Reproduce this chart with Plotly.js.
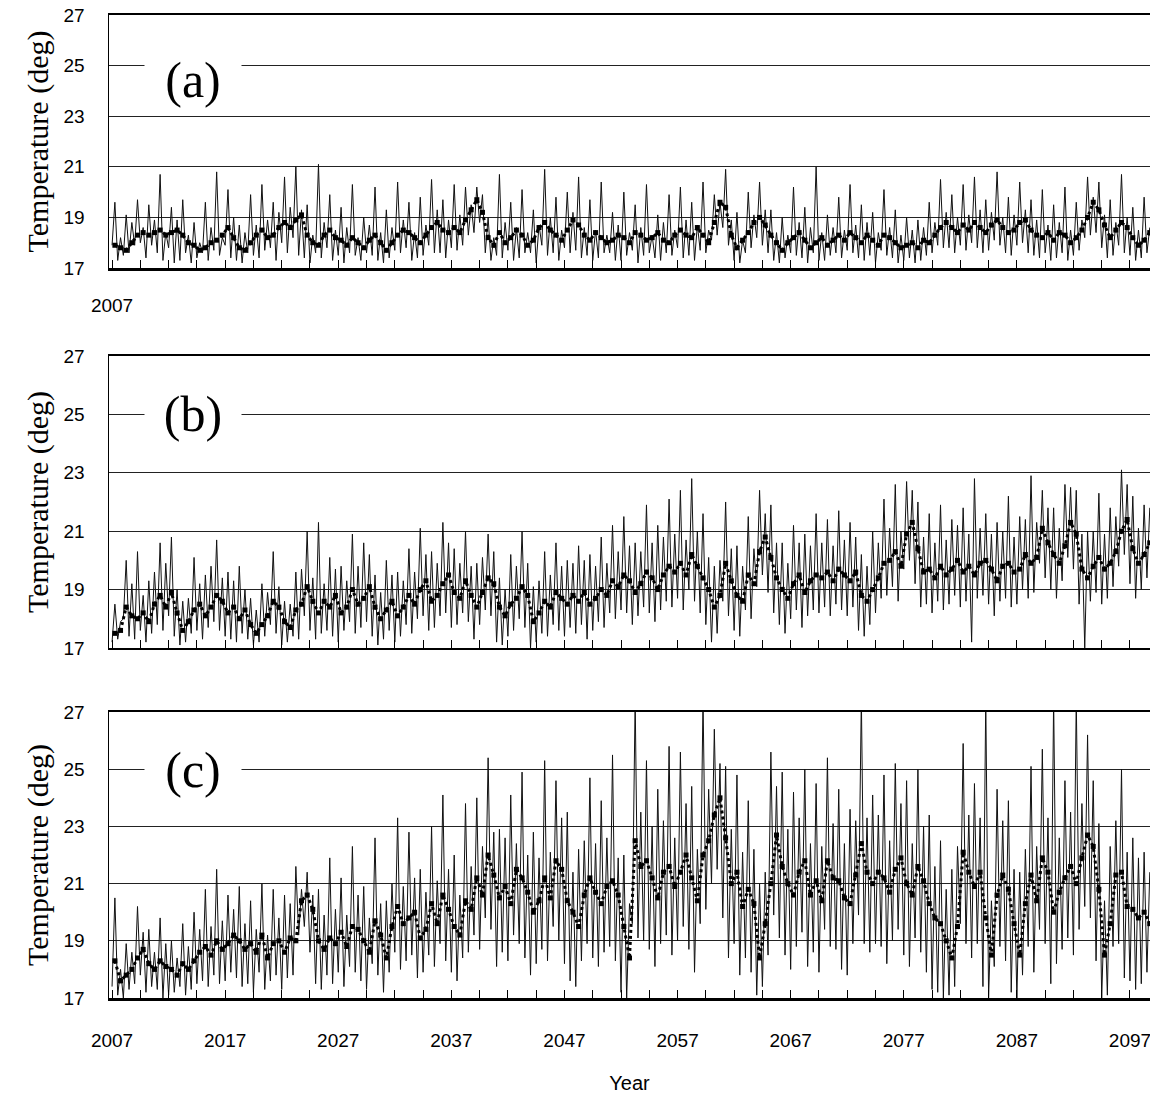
<!DOCTYPE html>
<html>
<head>
<meta charset="utf-8">
<script src="https://cdn.plot.ly/plotly-3.0.1.min.js"></script>
<style>html,body{margin:0;padding:0;background:#fff;}#chart{width:1150px;height:1094px;}</style>
</head>
<body>
<div id="chart"></div>
<script>
const START_YEAR = 2007;
const THIN_PER_YEAR = 4;
const SMOOTH_PER_YEAR = 2;
const yearTicks = [2007, 2017, 2027, 2037, 2047, 2057, 2067, 2077, 2087, 2097];
const tempTicks = [17, 19, 21, 23, 25, 27];
const panelLabels = ['(a)', '(b)', '(c)'];

// Panel (a): thin line, 4 values per year, 2007-2098
const thinA = [
17.9,19.6,17.3,18.2, 17.5,19.1,17.6,18.8, 17.9,19.7,18.0,18.6, 17.4,19.5,17.9,18.9, 17.6,20.7,17.3,18.4,
17.8,19.4,17.2,18.9, 17.3,19.7,17.6,18.3, 17.2,18.8,17.4,18.0, 17.6,19.6,17.3,18.6, 17.7,20.8,17.5,18.2,
17.9,20.1,17.4,19.0, 17.3,18.7,17.2,18.4, 17.6,19.9,17.5,18.7, 17.4,20.3,17.7,18.9, 17.8,19.6,17.3,19.2,
18.0,20.6,17.6,19.4, 18.2,21.0,17.5,19.3, 17.4,19.5,17.2,18.3, 17.6,21.1,17.4,18.8, 17.8,19.9,17.3,18.5,
17.5,19.4,17.2,18.6, 17.6,20.3,17.5,18.2, 17.3,19.0,17.6,18.7, 17.5,20.2,17.3,18.4, 17.2,19.3,17.4,18.6,
17.7,20.4,17.6,18.9, 17.8,19.6,17.3,18.4, 17.4,19.8,17.5,18.7, 17.9,20.5,17.6,19.3, 17.6,19.7,17.4,18.9,
17.8,20.3,17.7,19.1, 17.9,20.2,18.3,19.5, 18.4,20.2,18.8,19.9, 17.6,19.0,17.3,18.2, 17.5,20.7,17.4,18.8,
17.7,19.6,17.3,18.6, 17.4,20.1,17.6,18.4, 17.6,19.3,17.2,18.7, 17.9,20.9,17.5,19.0, 17.6,19.8,17.3,18.5,
17.8,20.0,17.6,19.2, 17.7,20.6,17.4,18.6, 17.5,19.7,17.3,18.5, 17.4,20.4,17.6,18.3, 17.6,19.2,17.3,18.7,
17.3,20.0,17.5,18.4, 17.7,19.5,17.2,18.6, 17.5,20.3,17.6,18.3, 17.4,19.1,17.3,18.8, 17.6,19.9,17.5,18.5,
17.8,20.2,17.4,18.9, 17.5,19.6,17.3,18.7, 17.7,20.4,17.6,18.5, 18.1,19.9,18.3,19.6, 18.6,20.9,17.9,18.9,
17.3,19.2,17.2,18.1, 17.6,20.0,17.8,19.1, 18.2,20.4,17.9,19.3, 17.6,19.3,17.3,18.4, 17.2,19.0,17.4,18.3,
17.6,20.2,17.5,18.8, 17.4,19.4,17.2,18.6, 17.6,21.0,17.3,18.4, 17.3,19.1,17.5,18.6, 17.6,19.8,17.4,18.5,
17.7,20.3,17.6,18.7, 17.4,19.5,17.3,18.8, 17.5,19.2,17.2,18.4, 17.7,20.1,17.5,18.6, 17.4,19.3,17.2,18.3,
17.3,19.0,17.4,18.5, 17.2,18.9,17.3,18.6, 17.5,19.6,17.6,18.8, 17.9,20.5,17.8,19.2, 17.8,19.9,17.6,19.0,
17.9,20.3,17.7,19.1, 18.0,20.6,17.8,19.3, 17.6,19.7,17.7,19.2, 18.1,20.8,17.9,19.0, 17.6,19.8,17.5,19.1,
17.9,20.4,18.0,19.3, 17.6,19.7,17.5,18.9, 17.4,20.1,17.6,18.7, 17.3,19.5,17.4,18.8, 17.6,20.2,17.3,18.5,
17.5,19.6,17.7,18.9, 18.2,20.6,18.3,19.8, 18.4,20.4,17.8,19.1, 17.4,19.7,17.5,18.8, 17.9,20.7,17.6,19.0,
17.5,19.4,17.3,18.5, 17.4,19.8,17.6,18.6
];
// Panel (a): dotted running mean, 2 values per year
const smoothA = [
17.9,17.8, 17.7,18.0, 18.3,18.4, 18.3,18.4, 18.5,18.3, 18.4,18.5, 18.3,18.0, 17.9,17.7, 17.8,18.0, 18.1,18.3,
18.6,18.2, 17.8,17.7, 18.0,18.3, 18.5,18.2, 18.3,18.6, 18.8,18.6, 18.9,19.1, 18.3,18.0, 17.9,18.3, 18.5,18.2,
18.1,17.9, 18.2,18.0, 17.8,18.1, 18.3,18.0, 17.7,18.0, 18.3,18.5, 18.4,18.2, 18.0,18.3, 18.6,18.8, 18.5,18.4,
18.6,18.4, 18.9,19.3, 19.7,19.2, 18.2,17.9, 18.4,18.0, 18.2,18.5, 18.3,17.9, 18.1,18.6, 18.8,18.5, 18.3,18.1,
18.5,18.9, 18.7,18.3, 18.1,18.4, 18.2,18.0, 18.1,18.3, 18.2,18.0, 18.4,18.3, 18.1,18.2, 18.4,18.1, 18.0,18.3,
18.5,18.3, 18.2,18.6, 18.3,18.0, 18.8,19.6, 19.4,18.3, 17.8,18.1, 18.4,18.8, 19.0,18.7, 18.3,18.0, 17.7,18.0,
18.2,18.4, 18.1,17.8, 18.0,18.2, 17.9,18.1, 18.3,18.1, 18.4,18.2, 18.0,18.3, 18.1,17.9, 18.3,18.2, 18.0,17.8,
17.9,18.0, 17.8,18.1, 18.0,18.3, 18.6,18.8, 18.6,18.4, 18.7,18.5, 18.8,18.6, 18.4,18.7, 18.9,18.6, 18.4,18.5,
18.8,18.9, 18.5,18.3, 18.2,18.4, 18.1,18.4, 18.3,18.0, 18.2,18.5, 19.0,19.6, 19.3,18.7, 18.2,18.5, 18.8,18.6,
18.2,17.9, 18.1,18.4
];

// Panel (b)
const thinB = [
17.2,18.5,17.3,17.9, 18.0,20.0,17.4,19.2, 17.3,20.3,17.6,18.8, 17.2,19.3,17.5,19.6, 17.8,20.6,17.6,19.9,
18.1,20.8,17.4,19.0, 17.1,18.6,17.2,18.7, 17.5,20.1,17.6,19.2, 17.3,19.5,17.7,19.8, 17.9,20.7,17.6,19.4,
17.4,19.6,17.3,19.3, 17.2,19.8,17.5,19.0, 17.3,18.7,17.1,18.3, 17.2,19.2,17.4,18.9, 17.8,20.3,17.5,19.1,
17.1,18.6,17.2,18.5, 17.4,19.6,17.3,19.7, 18.1,21.0,17.6,19.4, 17.3,21.3,17.5,19.2, 17.6,20.1,17.4,19.7,
17.2,19.8,17.6,19.3, 17.9,20.9,17.5,19.8, 17.7,20.6,17.9,20.2, 17.4,19.5,17.1,18.9, 17.3,20.0,17.6,19.5,
17.2,19.6,17.4,19.3, 17.8,20.4,17.5,19.6, 18.0,21.1,18.1,20.2, 17.6,20.3,17.7,19.9, 18.1,21.3,18.2,20.6,
17.7,20.4,17.8,19.9, 18.2,21.0,17.9,19.8, 17.3,19.9,17.8,20.1, 18.3,20.9,18.1,20.3, 17.2,19.4,17.1,19.0,
17.4,20.2,17.6,19.8, 18.0,21.0,17.7,19.9, 17.0,19.1,17.2,19.3, 17.5,20.3,17.4,19.5, 17.8,20.6,17.6,19.8,
17.4,20.0,17.7,19.9, 17.5,20.5,17.8,20.0, 17.3,20.2,17.6,19.8, 17.9,20.8,17.7,19.9, 18.2,21.2,18.0,20.3,
18.3,21.5,18.2,20.5, 17.8,20.6,18.1,20.3, 18.4,21.9,18.2,20.6, 17.9,21.2,18.3,20.8, 18.6,22.1,18.4,20.9,
18.7,22.4,18.3,20.7, 19.0,22.8,18.6,21.0, 18.2,21.6,17.8,20.1, 17.2,19.8,17.5,20.0, 18.6,22.0,18.1,20.4,
17.6,20.5,17.4,19.8, 18.3,21.5,18.0,20.4, 19.1,22.4,19.5,21.6, 18.9,21.9,18.2,20.6, 17.8,20.6,17.5,19.9,
18.0,21.2,18.3,20.6, 17.7,20.9,18.1,20.5, 18.3,21.6,18.2,20.6, 18.4,21.4,18.1,20.5, 18.5,21.7,18.3,20.7,
18.1,21.3,18.4,20.8, 17.6,20.2,17.4,19.8, 17.8,21.0,18.2,20.6, 18.7,22.1,18.8,21.1, 19.1,22.6,18.6,21.0,
19.7,22.7,20.0,22.4, 19.2,22.0,18.4,20.8, 18.5,21.6,18.2,20.6, 18.6,21.9,18.3,20.7, 18.5,21.4,18.8,21.2,
18.4,21.8,18.6,20.9, 17.2,22.8,18.7,21.1, 18.8,21.6,18.5,20.9, 18.1,21.3,18.6,21.0, 18.7,22.2,18.4,20.8,
18.5,21.5,19.0,21.4, 18.7,22.9,18.9,21.3, 19.9,22.4,19.4,21.8, 19.0,21.8,18.7,21.1, 19.3,22.6,20.1,22.5,
19.7,22.4,18.5,20.9, 17.0,21.0,18.6,21.0, 18.9,22.3,18.5,20.9, 18.7,21.8,19.1,21.5, 19.8,23.1,20.2,22.6,
19.2,22.2,18.7,21.1, 19.0,21.9,19.4,21.8
];
const smoothB = [
17.5,17.6, 18.4,18.1, 18.0,18.2, 17.9,18.5, 18.8,18.4, 18.9,18.2, 17.6,17.9, 18.3,18.5, 18.1,18.4, 18.8,18.6,
18.2,18.4, 18.0,18.3, 17.8,17.5, 17.8,18.1, 18.6,18.4, 17.9,17.7, 18.3,18.5, 19.1,18.6, 18.2,18.6, 18.4,18.8,
18.2,18.4, 19.0,18.5, 18.7,19.1, 18.4,18.0, 18.3,18.6, 18.1,18.4, 18.8,18.5, 19.0,19.3, 18.6,18.8, 19.2,19.5,
18.9,18.7, 19.3,18.8, 18.4,18.9, 19.4,19.2, 18.4,18.1, 18.5,18.7, 19.1,18.8, 17.9,18.2, 18.6,18.4, 18.9,18.7,
18.5,18.8, 18.6,18.9, 18.5,18.7, 19.0,18.8, 19.3,19.1, 19.5,19.3, 18.9,19.2, 19.6,19.4, 19.0,19.5, 19.8,19.6,
19.9,19.5, 20.2,19.8, 19.4,19.0, 18.4,18.8, 19.9,19.3, 18.8,18.6, 19.5,19.2, 20.3,20.8, 20.1,19.4, 19.0,18.7,
19.2,19.5, 18.9,19.3, 19.5,19.4, 19.6,19.3, 19.7,19.5, 19.3,19.6, 18.8,18.6, 19.0,19.4, 19.9,20.0, 20.3,19.8,
20.9,21.3, 20.4,19.6, 19.7,19.4, 19.8,19.5, 19.7,20.0, 19.6,19.8, 19.5,19.9, 20.0,19.7, 19.3,19.8, 19.9,19.6,
19.7,20.2, 19.9,20.1, 21.1,20.6, 20.2,19.9, 20.5,21.3, 20.9,19.7, 19.4,19.8, 20.1,19.7, 19.9,20.3, 21.0,21.4,
20.4,19.9, 20.2,20.6
];

// Panel (c)
const thinC = [
17.4,20.5,17.1,18.0, 17.0,18.9,17.3,18.6, 17.5,20.2,17.8,19.3, 17.2,19.4,17.4,18.6, 17.3,19.8,17.0,18.9,
17.1,19.0,17.2,18.4, 17.4,19.6,17.1,18.8, 17.3,20.0,17.5,19.4, 17.6,20.8,17.4,19.5, 17.8,21.5,17.5,19.7,
17.6,20.6,17.9,20.1, 17.7,20.9,17.4,19.6, 17.5,20.4,17.2,19.4, 17.9,21.0,17.3,19.2, 17.6,20.8,17.8,19.8,
17.3,20.6,17.7,20.3, 17.8,21.6,19.2,20.8, 19.5,21.4,18.6,20.6, 17.5,20.8,17.3,19.9, 17.8,21.9,17.5,20.1,
17.9,21.2,17.4,19.9, 18.1,22.3,17.9,20.6, 17.6,20.9,17.3,19.8, 18.2,22.6,17.8,20.3, 17.2,20.4,17.9,21.0,
18.6,23.3,18.0,20.9, 18.3,22.8,18.5,21.2, 17.7,21.5,17.9,20.7, 18.5,23.0,18.1,21.1, 18.9,24.1,18.3,21.5,
17.9,22.0,17.6,20.6, 18.4,23.8,18.6,21.6, 19.2,24.0,18.7,22.3, 19.8,25.4,19.4,22.8, 18.1,22.9,18.6,22.6,
18.3,24.1,19.2,22.4, 18.9,24.9,18.4,22.0, 17.8,22.8,18.2,21.9, 18.7,25.3,18.3,22.1, 19.5,24.6,19.0,23.3,
18.2,23.5,17.6,21.4, 17.4,22.2,18.3,22.5, 18.9,24.7,18.4,22.4, 18.1,23.9,18.6,22.6, 18.8,25.5,18.3,21.9,
17.2,22.0,17.0,20.3, 19.6,27.5,19.1,23.5, 19.0,25.3,18.7,23.0, 18.1,24.3,18.9,23.2, 19.2,25.8,18.5,22.6,
19.0,25.6,19.5,23.8, 18.7,24.4,17.9,22.2, 19.6,27.5,20.1,24.3, 21.0,26.4,21.5,25.2, 19.8,25.1,18.4,22.9,
18.9,24.8,17.8,22.1, 18.4,23.9,17.9,22.2, 17.1,21.0,17.4,21.4, 18.5,25.6,19.9,24.4, 19.1,24.9,18.5,22.9,
18.0,24.2,18.8,23.3, 19.3,25.0,18.1,22.4, 18.6,24.5,17.9,22.3, 19.4,25.4,18.8,23.1, 18.7,24.3,18.0,22.4,
17.8,23.6,18.9,23.2, 19.9,27.5,18.9,23.3, 18.6,24.1,18.9,23.4, 18.8,24.8,18.2,22.5, 19.0,25.2,19.4,23.8,
18.5,24.6,18.1,22.4, 19.1,25.0,18.6,23.0, 17.9,23.4,17.3,21.6, 17.2,22.5,17.0,20.8, 17.1,21.5,17.4,22.3,
19.6,25.9,18.9,23.4, 18.4,24.5,18.9,23.3, 17.4,27.5,17.0,20.4, 18.1,24.3,18.8,23.2, 18.3,23.9,17.2,21.5,
17.0,21.4,17.8,22.2, 18.8,25.1,17.9,22.3, 19.4,25.7,18.9,23.3, 17.5,27.5,18.2,22.6, 18.7,24.6,19.1,23.5,
18.5,27.5,19.4,23.8, 20.2,26.2,19.8,24.6, 18.3,23.1,17.0,20.4, 17.1,22.3,18.8,23.2, 18.9,25.0,17.7,22.1,
17.6,22.6,17.3,21.9, 17.5,22.1,17.9,21.4
];
const smoothC = [
18.3,17.6, 17.8,18.0, 18.4,18.7, 18.2,18.0, 18.3,18.1, 18.0,17.8, 18.2,18.0, 18.3,18.6, 18.8,18.5, 19.0,18.7,
18.9,19.2, 19.0,18.7, 18.9,18.6, 19.2,18.4, 18.9,19.0, 18.6,19.1, 19.0,20.4, 20.6,20.1, 19.0,18.7, 19.1,18.9,
19.3,18.8, 19.5,19.4, 19.0,18.6, 19.7,19.2, 18.4,19.5, 20.2,19.6, 19.8,20.0, 19.1,19.4, 20.3,19.6, 20.6,20.1,
19.5,19.2, 20.4,20.1, 21.2,20.6, 22.0,21.3, 20.5,20.9, 20.3,21.5, 21.2,20.7, 20.0,20.4, 21.2,20.5, 21.8,21.5,
20.4,20.0, 19.5,20.6, 21.2,20.7, 20.3,20.9, 21.1,20.6, 19.5,18.4, 22.5,21.6, 21.8,21.2, 20.5,21.4, 21.6,20.9,
21.4,22.0, 21.2,20.4, 22.0,22.5, 23.4,24.0, 22.6,21.0, 21.4,20.2, 20.8,20.3, 18.4,19.6, 21.0,22.7, 21.6,21.0,
20.6,21.4, 21.8,20.6, 21.1,20.4, 21.8,21.2, 21.1,20.5, 20.3,21.3, 22.4,21.4, 21.0,21.4, 21.2,20.7, 21.5,21.9,
21.0,20.6, 21.6,21.1, 20.3,19.8, 19.6,19.0, 18.4,19.5, 22.1,21.4, 20.9,21.4, 19.8,18.5, 20.6,21.3, 20.8,19.6,
18.5,20.3, 21.3,20.4, 21.9,21.4, 20.0,20.7, 21.2,21.6, 21.0,21.9, 22.7,22.3, 20.8,18.5, 19.6,21.3, 21.4,20.2,
20.1,19.8, 20.0,19.6
];

const thinSeries = [thinA, thinB, thinC];
const smoothSeries = [smoothA, smoothB, smoothC];
const panelDomains = [[0.7426, 1], [0.3561, 0.6531], [0, 0.2909]];
const labelY = [24.43, 25.02, 24.97];
const xLabelStandoff = [19, 20, 24];

const SANS = '"Liberation Sans Narrow", "Arial Narrow", "Liberation Sans", Arial, sans-serif';
const SERIF = '"Liberation Serif", "Times New Roman", serif';

const traces = [];
thinSeries.forEach((vals, p) => {
  const suf = p === 0 ? '' : String(p + 1);
  traces.push({
    type: 'scatter', mode: 'lines',
    x: vals.map((_, i) => START_YEAR + i / THIN_PER_YEAR),
    y: vals,
    xaxis: 'x' + suf, yaxis: 'y' + suf,
    line: {color: '#111', width: 1},
    showlegend: false, hoverinfo: 'skip'
  });
  const sm = smoothSeries[p];
  traces.push({
    type: 'scatter', mode: 'lines+markers',
    x: sm.map((_, i) => START_YEAR + (i + 0.5) / SMOOTH_PER_YEAR),
    y: sm,
    xaxis: 'x' + suf, yaxis: 'y' + suf,
    line: {color: '#000', width: 3, dash: 'dot'},
    marker: {symbol: 'square', size: 5, color: '#000'},
    showlegend: false, hoverinfo: 'skip'
  });
});

const layout = {
  width: 1150, height: 1094,
  margin: {l: 109, r: 0, t: 15, b: 96},
  paper_bgcolor: '#fff', plot_bgcolor: '#fff',
  showlegend: false,
  annotations: []
};

for (let p = 0; p < 3; p++) {
  const suf = p === 0 ? '' : String(p + 1);
  const xa = {
    domain: [0, 1], anchor: 'y' + suf,
    range: [2006.73, 2098.77],
    tickmode: 'array',
    tickvals: yearTicks,
    ticktext: yearTicks.map(v => (p === 2 || (p === 0 && v === 2007)) ? String(v) : ''),
    ticks: 'inside', ticklen: 8, tickcolor: '#000', tickwidth: 1,
    minor: {dtick: 2.5, tick0: 2007, ticks: 'inside', ticklen: 8, tickcolor: '#000', tickwidth: 1, showgrid: false},
    showgrid: false, zeroline: false,
    showline: true, linecolor: '#000', linewidth: 2.5, mirror: true,
    tickfont: {family: SANS, size: 19, color: '#000'},
    ticklabelstandoff: xLabelStandoff[p],
    ticklabeloverflow: 'allow',
    automargin: false
  };
  if (p === 2) {
    xa.title = {text: 'Year', font: {family: SANS, size: 20, color: '#000'}, standoff: 30};
  }
  const ya = {
    domain: panelDomains[p], anchor: 'x' + suf,
    range: [17, 27],
    tickmode: 'array', tickvals: tempTicks,
    ticks: '', showgrid: true, gridcolor: '#222', gridwidth: 1,
    zeroline: false,
    showline: true, linecolor: '#000', linewidth: 1.5,
    tickfont: {family: SANS, size: 19, color: '#000'},
    ticklabelstandoff: 19,
    title: {text: 'Temperature (deg)', font: {family: SERIF, size: 30, color: '#000'}, standoff: 6},
    automargin: false
  };
  layout['xaxis' + suf] = xa;
  layout['yaxis' + suf] = ya;
  layout.annotations.push({
    xref: 'x' + suf, yref: 'y' + suf,
    x: 2014.2, y: labelY[p],
    text: panelLabels[p], showarrow: false,
    font: {family: SERIF, size: 50, color: '#000'},
    bgcolor: '#fff', width: 96, borderpad: 0,
    xanchor: 'center', yanchor: 'middle'
  });
}

Plotly.newPlot('chart', traces, layout, {staticPlot: true, displayModeBar: false});
</script>
</body>
</html>
